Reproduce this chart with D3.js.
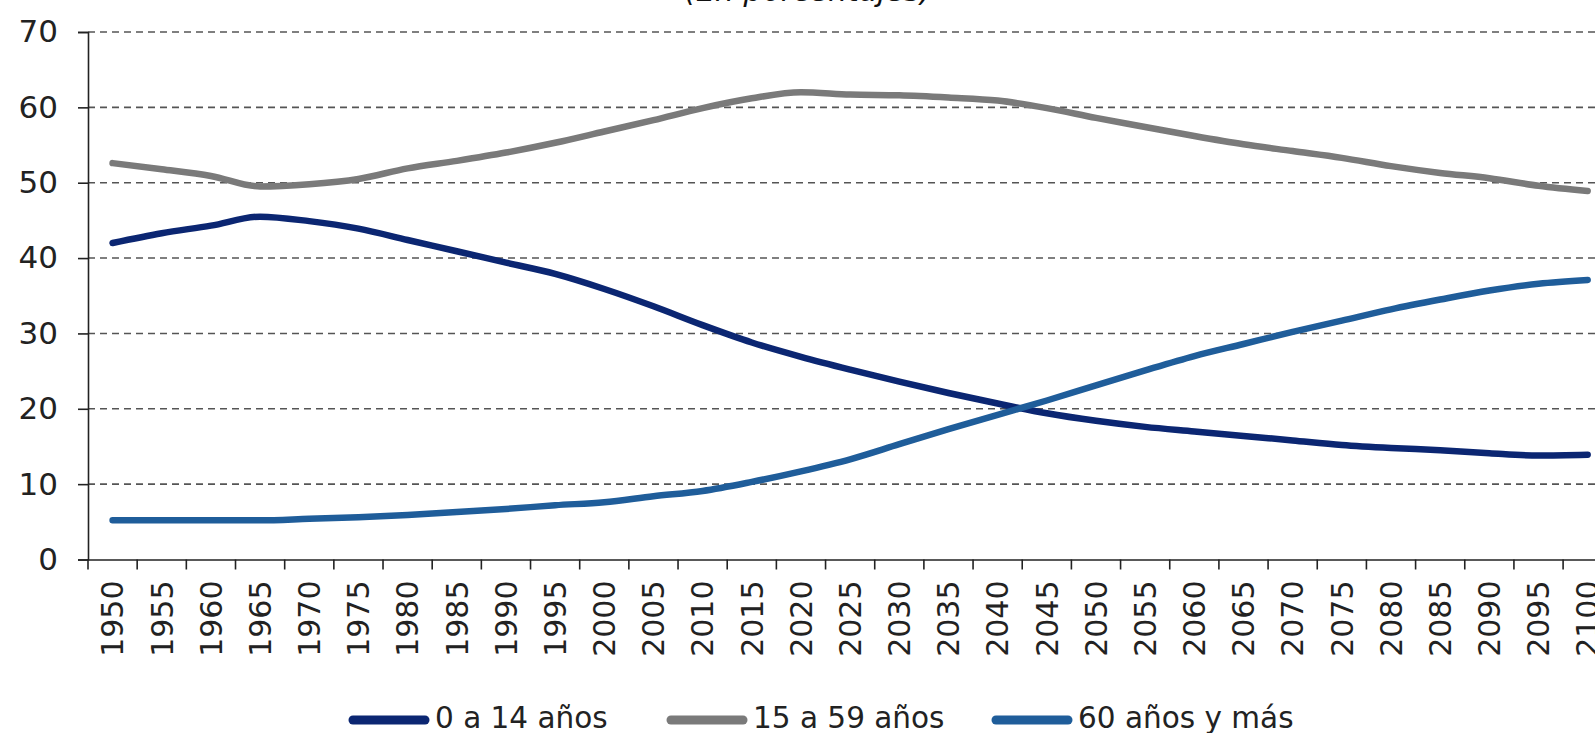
<!DOCTYPE html>
<html>
<head>
<meta charset="utf-8">
<script src="https://cdn.jsdelivr.net/npm/d3@7"></script>
<style>
  html, body { margin: 0; padding: 0; background: #fff; overflow: hidden; }
  svg { display: block; }
</style>
</head>
<body>
<svg id="chart" width="1595" height="733"></svg>
<script>
const years = d3.range(1950, 2101, 5).map(String);
const yTicks = [0, 10, 20, 30, 40, 50, 60, 70];
const seriesNames = ["0 a 14 años", "15 a 59 años", "60 años y más"];
const seriesColors = ["#0b2672", "#7a7a7a", "#1f5d9a"];

const age0to14 = [42.0, 43.3, 44.3, 45.5, 44.9, 43.9, 42.4, 40.9, 39.4, 37.9, 35.9, 33.6, 31.1, 28.8, 26.9, 25.2,
  23.6, 22.1, 20.7, 19.4, 18.4, 17.6, 17.0, 16.4, 15.8, 15.2, 14.8, 14.5, 14.1, 13.8, 13.9];
const age15to59 = [52.6, 51.8, 50.9, 49.5, 49.8, 50.5, 51.9, 52.9, 54.0, 55.3, 56.8, 58.3, 59.9, 61.2, 62.0, 61.7,
  61.6, 61.3, 60.9, 59.9, 58.6, 57.4, 56.2, 55.1, 54.2, 53.3, 52.2, 51.3, 50.6, 49.6, 48.9];
const age60plus = [5.2, 5.2, 5.2, 5.2, 5.4, 5.6, 5.9, 6.3, 6.7, 7.2, 7.6, 8.4, 9.1, 10.3, 11.7, 13.3,
  15.3, 17.3, 19.2, 21.1, 23.1, 25.1, 27.0, 28.6, 30.2, 31.7, 33.2, 34.5, 35.7, 36.6, 37.1];
const seriesValues = [age0to14, age15to59, age60plus];

const svg = d3.select("#chart");
const FONT = "'DejaVu Sans', sans-serif";

const left = 88, band = 49.17;
const x = d3.scaleBand().domain(years).range([left, left + band * years.length]).padding(0);
const y = d3.scaleLinear().domain([0, 70]).range([559.5, 32]);

// title (mostly cropped off at top)
svg.append("text")
  .attr("x", 808).attr("y", 1)
  .attr("text-anchor", "middle")
  .attr("font-family", FONT).attr("font-style", "italic")
  .attr("font-size", 30).attr("fill", "#111")
  .text("(En porcentajes)");

// grid lines
svg.append("g").selectAll("line")
  .data(yTicks.filter(d => d > 0))
  .join("line")
  .attr("x1", left).attr("x2", 1600)
  .attr("y1", d => y(d)).attr("y2", d => y(d))
  .attr("stroke", "#555").attr("stroke-width", 1.6)
  .attr("stroke-dasharray", "7,5");

// y axis
const yAxis = svg.append("g")
  .attr("transform", `translate(${left},0)`)
  .call(d3.axisLeft(y).tickValues(yTicks).tickSize(10).tickPadding(20).tickFormat(d3.format("d")));
yAxis.select(".domain").attr("stroke", "#222").attr("stroke-width", 1.6);
yAxis.selectAll(".tick line").attr("stroke", "#222").attr("stroke-width", 1.6);
yAxis.selectAll("text").attr("font-family", FONT).attr("font-size", 31).attr("fill", "#222");

// x axis
const xAxis = svg.append("g")
  .attr("transform", `translate(0,${y(0)})`)
  .call(d3.axisBottom(x).tickSize(0).tickSizeOuter(0).tickPadding(0));
xAxis.select(".domain").attr("stroke", "#222").attr("stroke-width", 1.6);
xAxis.selectAll(".tick text")
  .attr("font-family", FONT).attr("font-size", 30).attr("fill", "#222")
  .attr("transform", "rotate(-90)")
  .attr("text-anchor", "end")
  .attr("x", -21).attr("y", 0).attr("dy", "0.36em");
// boundary ticks between categories
xAxis.append("g").selectAll("line")
  .data(years.map(d => x(d)).concat([x.range()[1]]))
  .join("line")
  .attr("x1", d => d).attr("x2", d => d)
  .attr("y1", 0).attr("y2", 10)
  .attr("stroke", "#222").attr("stroke-width", 1.6);

// lines
const line = d3.line()
  .x((d, i) => x(years[i]) + x.bandwidth() / 2)
  .y(d => y(d))
  .curve(d3.curveMonotoneX);

svg.append("g").selectAll("path")
  .data(seriesValues)
  .join("path")
  .attr("d", d => line(d))
  .attr("fill", "none")
  .attr("stroke", (d, i) => seriesColors[i])
  .attr("stroke-width", 6.5)
  .attr("stroke-linecap", "round")
  .attr("stroke-linejoin", "round");

// legend
const legendX = [349, 667, 992];
const lg = svg.append("g");
const items = lg.selectAll("g").data(seriesNames).join("g")
  .attr("transform", (d, i) => `translate(${legendX[i]},720)`);
items.append("line")
  .attr("x1", 4).attr("x2", 76).attr("y1", 0).attr("y2", 0)
  .attr("stroke", (d, i) => seriesColors[i])
  .attr("stroke-width", 9).attr("stroke-linecap", "round");
items.append("text")
  .attr("x", 86).attr("y", 8)
  .attr("font-family", FONT).attr("font-size", 29.5).attr("fill", "#222")
  .text(d => d);
</script>
</body>
</html>
